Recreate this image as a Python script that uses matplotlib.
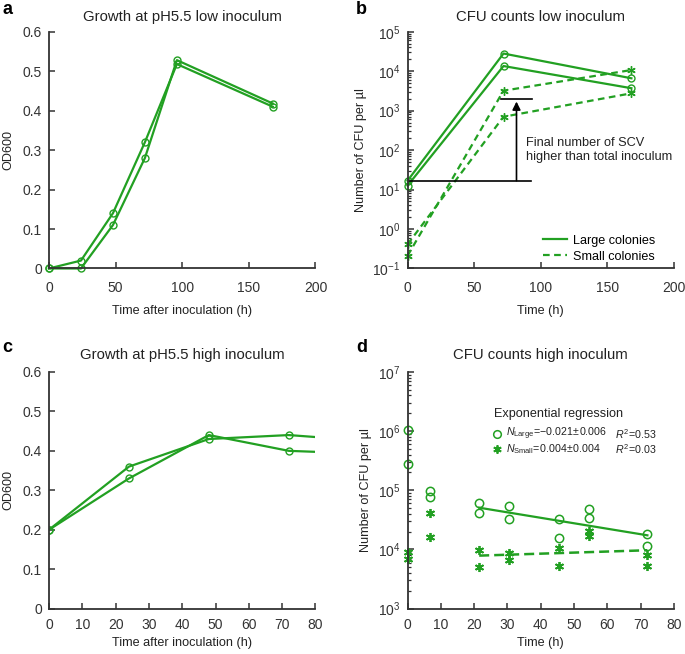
import numpy as np
import matplotlib
matplotlib.use("Agg")
import matplotlib.pyplot as plt
from matplotlib.ticker import LogLocator, NullFormatter
from matplotlib.lines import Line2D

plt.rcParams['font.family'] = ['Liberation Sans', 'DejaVu Sans']
plt.rcParams['mathtext.fontset'] = 'custom'
plt.rcParams['mathtext.rm'] = 'Liberation Sans'
plt.rcParams['mathtext.it'] = 'Liberation Sans:italic'
plt.rcParams['mathtext.default'] = 'regular'

# ---------------- data ----------------
# Panel a: growth at pH5.5, low inoculum
t_a = [0, 24, 48, 72, 96, 168]
od_a1 = [0.0, 0.02, 0.14, 0.32, 0.518, 0.41]
od_a2 = [0.0, 0.0, 0.11, 0.28, 0.528, 0.418]

# Panel b: CFU counts, low inoculum
t_b = [0, 72, 168]
large_b1 = [16.8, 28000, 6600]
large_b2 = [12.6, 13500, 3700]
small_b1 = [0.41, 700, 2750]
small_b2 = [0.21, 3200, 10700]
inoculum_level = 16.8
scv_level = 2000

# Panel c: growth at pH5.5, high inoculum
t_c = [0, 24, 48, 72, 96]
od_c1 = [0.2, 0.36, 0.43, 0.44, 0.425]
od_c2 = [0.2, 0.33, 0.44, 0.40, 0.3925]

# Panel d: CFU counts, high inoculum (two replicates per time point)
t_d = [0, 6.7, 21.5, 30.5, 45.5, 54.5, 72]
large_d1 = [1.06e6, 9.8e4, 6.0e4, 5.4e4, 3.24e4, 4.87e4, 1.86e4]
large_d2 = [2.77e5, 7.6e4, 4.17e4, 3.3e4, 1.58e4, 3.44e4, 1.14e4]
small_d1 = [9.2e3, 4.06e4, 9.8e3, 8.8e3, 1.07e4, 2.07e4, 8.1e3]
small_d2 = [6.9e3, 1.64e4, 5.0e3, 6.6e3, 5.3e3, 1.68e4, 5.3e3]
fit_start = 21.5

GREEN = '#22a022'
DARK = '#333333'
TXT = '#222222'
AST = (6, 2, 0)
TICK_FS = 10
LAB_FS = 9.1
TITLE_FS = 10.7

fig = plt.figure(figsize=(6.85, 6.54), dpi=100)

def style(ax, xpad):
    for s in ['top', 'right']:
        ax.spines[s].set_visible(False)
    for s in ['left', 'bottom']:
        ax.spines[s].set_linewidth(1.3)
        ax.spines[s].set_color(DARK)
    ax.tick_params(direction='in', length=4, width=1.1, colors=DARK,
                   labelsize=TICK_FS, labelcolor=DARK)
    ax.tick_params(axis='x', pad=xpad)
    ax.tick_params(axis='y', pad=5)
    ax.tick_params(which='minor', direction='in', length=2.5, width=0.9, colors=DARK)

W = 0.389
H = 0.362
ax_a = fig.add_axes([0.0715, 0.5895, W, H])
ax_b = fig.add_axes([0.595, 0.5895, W, H])
ax_c = fig.add_axes([0.0715, 0.0693, W, H])
ax_d = fig.add_axes([0.595, 0.0693, W, H])

# ---- a ----
ax = ax_a
style(ax, 9)
for y in (od_a1, od_a2):
    ax.plot(t_a, y, color=GREEN, lw=1.6, marker='o', ms=5, mfc='none', mew=1.0, clip_on=False)
ax.set_xlim(0, 200)
ax.set_ylim(0, 0.6)
ax.set_xticks([0, 50, 100, 150, 200])
ax.set_yticks([0, 0.1, 0.2, 0.3, 0.4, 0.5, 0.6])
ax.set_yticklabels(['0', '0.1', '0.2', '0.3', '0.4', '0.5', '0.6'])
ax.set_xlabel('Time after inoculation (h)', fontsize=LAB_FS, color=TXT, labelpad=7)
ax.set_ylabel('OD600', fontsize=LAB_FS, color=TXT, labelpad=6)
ax.set_title('Growth at pH5.5 low inoculum', fontsize=TITLE_FS, color=TXT, pad=8)

# ---- b ----
ax = ax_b
style(ax, 9)
for y in (large_b1, large_b2):
    ax.plot(t_b, y, color=GREEN, lw=1.6, marker='o', ms=5, mfc='none', mew=1.0, clip_on=False)
for y in (small_b1, small_b2):
    ax.plot(t_b, y, color=GREEN, lw=1.6, ls=(0, (3, 2)), marker=AST, ms=6, mew=1.0, clip_on=False)
ax.set_yscale('log')
ax.set_xlim(0, 200)
ax.set_ylim(1e-1, 1e5)
ax.set_xticks([0, 50, 100, 150, 200])
ax.yaxis.set_major_locator(LogLocator(base=10, numticks=10))
ax.yaxis.set_minor_locator(LogLocator(base=10, subs=np.arange(2, 10), numticks=20))
ax.yaxis.set_minor_formatter(NullFormatter())
ax.plot([0, 93], [inoculum_level, inoculum_level], color='black', lw=1.2)
ax.plot([70, 93.5], [scv_level, scv_level], color='black', lw=1.2)
ax.annotate('', xy=(81.75, scv_level * 0.85), xytext=(81.75, inoculum_level),
            arrowprops=dict(arrowstyle='-|>', color='black', lw=1.2, mutation_scale=12,
                            shrinkA=0, shrinkB=0))
ax.text(89, 102, 'Final number of SCV\nhigher than total inoculum', fontsize=9.2,
        color=TXT, va='center', ha='left', linespacing=1.2)
h1 = Line2D([], [], color=GREEN, lw=1.6)
h2 = Line2D([], [], color=GREEN, lw=1.6, ls=(0, (3, 2)))
ax.legend([h1, h2], ['Large colonies', 'Small colonies'], loc='lower left',
          bbox_to_anchor=(0.508, 0.025), frameon=False, fontsize=LAB_FS, handlelength=1.9,
          handletextpad=0.45, labelspacing=0.3, borderaxespad=0.0, borderpad=0.0)
ax.set_xlabel('Time (h)', fontsize=LAB_FS, color=TXT, labelpad=7)
ax.set_ylabel('Number of CFU per µl', fontsize=LAB_FS, color=TXT, labelpad=4)
ax.set_title('CFU counts low inoculum', fontsize=TITLE_FS, color=TXT, pad=8)

# ---- c ----
ax = ax_c
style(ax, 7)
for y in (od_c1, od_c2):
    ax.plot(t_c, y, color=GREEN, lw=1.6, marker='o', ms=5, mfc='none', mew=1.0)
ax.set_xlim(0, 80)
ax.set_ylim(0, 0.6)
ax.set_xticks(range(0, 81, 10))
ax.set_yticks([0, 0.1, 0.2, 0.3, 0.4, 0.5, 0.6])
ax.set_yticklabels(['0', '0.1', '0.2', '0.3', '0.4', '0.5', '0.6'])
ax.set_xlabel('Time after inoculation (h)', fontsize=LAB_FS, color=TXT, labelpad=3)
ax.set_ylabel('OD600', fontsize=LAB_FS, color=TXT, labelpad=6)
ax.set_title('Growth at pH5.5 high inoculum', fontsize=TITLE_FS, color=TXT, pad=9)

# ---- d ----
ax = ax_d
style(ax, 7)
tt = np.array(t_d + t_d)
L = np.array(large_d1 + large_d2)
S = np.array(small_d1 + small_d2)
ax.plot(tt, L, ls='none', marker='o', ms=6, mfc='none', mec=GREEN, mew=1.1, clip_on=False)
ax.plot(tt, S, ls='none', marker=AST, ms=6.5, mec=GREEN, mew=1.3, clip_on=False)
m = tt >= fit_start
xf = np.array([fit_start, max(t_d)])
pl = np.polyfit(tt[m], np.log(L[m]), 1)
ps = np.polyfit(tt[m], np.log(S[m]), 1)
ax.plot(xf, np.exp(np.polyval(pl, xf)), color=GREEN, lw=1.6)
ax.plot(xf, np.exp(np.polyval(ps, xf)), color=GREEN, lw=1.8, ls=(0, (4, 2)))
ax.set_yscale('log')
ax.set_xlim(0, 80)
ax.set_ylim(1e3, 1e7)
ax.set_xticks(range(0, 81, 10))
ax.yaxis.set_major_locator(LogLocator(base=10, numticks=10))
ax.yaxis.set_minor_locator(LogLocator(base=10, subs=np.arange(2, 10), numticks=20))
ax.yaxis.set_minor_formatter(NullFormatter())

# regression key (drawn by hand)
ax.text(0.325, 0.822, 'Exponential regression', transform=ax.transAxes, fontsize=9.1,
        va='center', ha='left', color=TXT)
ax.plot([0.336], [0.738], transform=ax.transAxes, ls='none', marker='o', ms=5.5,
        mfc='none', mec=GREEN, mew=1.1, clip_on=False)
ax.plot([0.336], [0.675], transform=ax.transAxes, ls='none', marker=AST, ms=6,
        mec=GREEN, mew=1.3, clip_on=False)
ax.text(0.371, 0.738, r'$\mathit{N}_{\mathrm{Large}}\!=\!{-}0.021\!\pm\!0.006$', transform=ax.transAxes,
        fontsize=7.7, va='center', ha='left', color=TXT)
ax.text(0.371, 0.675, r'$\mathit{N}_{\mathrm{Small}}\!=\!0.004\!\pm\!0.004$', transform=ax.transAxes,
        fontsize=7.7, va='center', ha='left', color=TXT)
ax.text(0.778, 0.738, r'$\mathit{R}^{2}\!=\!0.53$', transform=ax.transAxes, fontsize=7.7,
        va='center', ha='left', color=TXT)
ax.text(0.778, 0.675, r'$\mathit{R}^{2}\!=\!0.03$', transform=ax.transAxes, fontsize=7.7,
        va='center', ha='left', color=TXT)
ax.set_xlabel('Time (h)', fontsize=LAB_FS, color=TXT, labelpad=3)
ax.set_ylabel('Number of CFU per µl', fontsize=LAB_FS, color=TXT, labelpad=4)
ax.set_title('CFU counts high inoculum', fontsize=TITLE_FS, color=TXT, pad=9)

# panel letters
for lab, x, y in [('a', 0.003, 0.985), ('b', 0.52, 0.985), ('c', 0.003, 0.468), ('d', 0.52, 0.468)]:
    fig.text(x, y, lab, fontsize=13, fontweight='bold', va='center', ha='left')

fig.savefig('out.png', dpi=100)
